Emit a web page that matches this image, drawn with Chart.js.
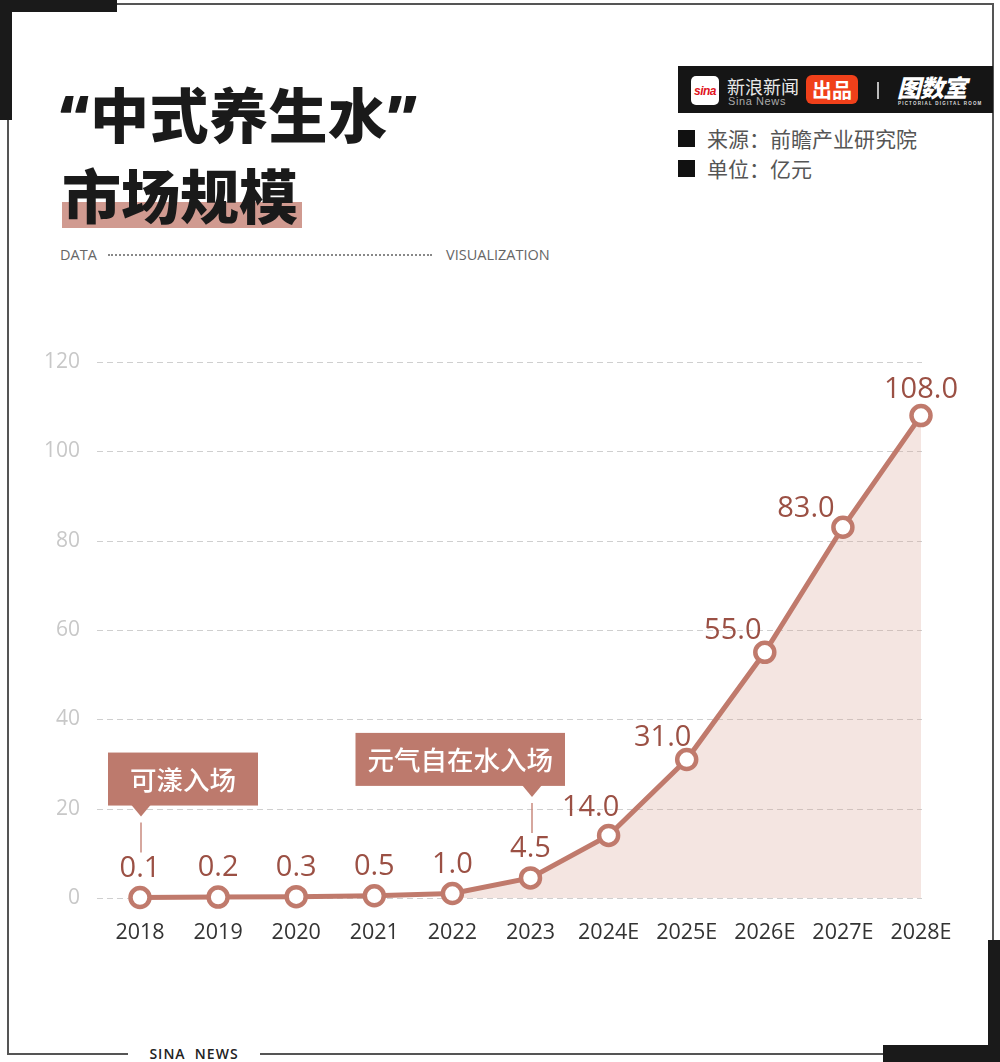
<!DOCTYPE html>
<html>
<head>
<meta charset="utf-8">
<script src="https://cdn.jsdelivr.net/npm/chart.js@4/dist/chart.umd.min.js"></script>
<style>
  html, body { margin: 0; padding: 0; background: #fff; }
  body { width: 1000px; height: 1062px; position: relative; overflow: hidden; font-family: 'Noto Sans CJK SC', 'Noto Sans', sans-serif; }
  .abs { position: absolute; }
  #chartWrap { position: absolute; left: 0; top: 330px; width: 1000px; height: 640px; }
  canvas { display: block; }
</style>
</head>
<body>
<!-- frame -->
<div class="abs" style="left:0;top:0;width:117px;height:12px;background:#1a1a1a"></div>
<div class="abs" style="left:0;top:0;width:12px;height:120px;background:#1a1a1a"></div>
<div class="abs" style="left:117px;top:3px;width:877px;height:2px;background:#555"></div>
<div class="abs" style="left:7px;top:120px;width:2px;height:935px;background:#555"></div>
<div class="abs" style="left:992px;top:3px;width:2px;height:937px;background:#555"></div>
<div class="abs" style="left:7px;top:1053px;width:121px;height:2px;background:#555"></div>
<div class="abs" style="left:260px;top:1053px;width:625px;height:2px;background:#555"></div>
<div class="abs" style="left:883px;top:1045px;width:117px;height:17px;background:#1a1a1a"></div>
<div class="abs" style="left:988px;top:940px;width:12px;height:122px;background:#1a1a1a"></div>
<div class="abs" style="left:128px;top:1044px;width:132px;text-align:center;font:600 14px 'Open Sans',sans-serif;letter-spacing:1px;color:#222;line-height:20px">SINA&nbsp; NEWS</div>

<!-- title -->
<div class="abs" style="left:62px;top:202px;width:240px;height:26px;background:#d09a90"></div>
<div class="abs" style="left:60px;top:75px;font-weight:900;font-size:59px;line-height:76px;color:#1a1a1a;white-space:nowrap;letter-spacing:0.5px"><span style="font-family:'Noto Sans',sans-serif;font-weight:900">“</span>中式养生水<span style="font-family:'Noto Sans',sans-serif;font-weight:900">”</span></div>
<div class="abs" style="left:62px;top:156px;font-weight:900;font-size:59px;line-height:76px;color:#1a1a1a;white-space:nowrap">市场规模</div>

<div class="abs" style="left:60px;top:245px;font:14.5px 'Open Sans',sans-serif;color:#666;line-height:20px">DATA</div>
<div class="abs" style="left:108px;top:254px;width:324px;border-top:2px dotted #888;height:0"></div>
<div class="abs" style="left:446px;top:245px;font:14.5px 'Open Sans',sans-serif;color:#666;line-height:20px">VISUALIZATION</div>

<!-- logo bar -->
<div class="abs" style="left:678px;top:66px;width:315px;height:47px;background:#151515"></div>
<div class="abs" style="left:691px;top:76px;width:28px;height:29px;background:#fff;border-radius:5px"></div>
<div class="abs" style="left:691px;top:83px;width:28px;text-align:center;font:italic 900 12px 'Liberation Sans',sans-serif;color:#e0141e;letter-spacing:-0.5px;line-height:16px">sina</div>
<div class="abs" style="left:727px;top:74px;font-size:18px;line-height:24px;color:#e8e8e8;white-space:nowrap">新浪新闻</div>
<div class="abs" style="left:728px;top:95px;font:11px 'Liberation Sans',sans-serif;line-height:12px;color:#aaa;white-space:nowrap;letter-spacing:0.6px">Sina News</div>
<div class="abs" style="left:806px;top:75px;width:52px;height:29px;background:#f0401a;border-radius:6px;color:#fff;font-weight:700;font-size:20px;line-height:29px;text-align:center">出品</div>
<div class="abs" style="left:877px;top:82px;width:2px;height:17px;background:#bbb"></div>
<div class="abs" style="left:897px;top:72px;font-weight:900;font-style:italic;font-size:24px;line-height:30px;color:#fff;white-space:nowrap;letter-spacing:-1px">图数室</div>
<div class="abs" style="left:898px;top:101px;font:bold 4.5px 'Liberation Sans',sans-serif;color:#ddd;letter-spacing:1.2px;white-space:nowrap;line-height:6px">PICTORIAL DIGITAL ROOM</div>

<!-- legend text -->
<div class="abs" style="left:678px;top:130px;width:17px;height:17px;background:#111"></div>
<div class="abs" style="left:707px;top:124px;font-size:21px;line-height:28px;color:#555;white-space:nowrap">来源：前瞻产业研究院</div>
<div class="abs" style="left:678px;top:160px;width:17px;height:17px;background:#111"></div>
<div class="abs" style="left:707px;top:154px;font-size:21px;line-height:28px;color:#555;white-space:nowrap">单位：亿元</div>

<div id="chartWrap"><canvas id="c" width="1000" height="640"></canvas></div>

<script>
const categories = ['2018', '2019', '2020', '2021', '2022', '2023', '2024E', '2025E', '2026E', '2027E', '2028E'];
const marketSize = [0.1, 0.2, 0.3, 0.5, 1.0, 4.5, 14.0, 31.0, 55.0, 83.0, 108.0];
const yTicks = [0, 20, 40, 60, 80, 100, 120];
const eventCategories = ['2018', '2023'];
const eventLabels = ['可漾入场', '元气自在水入场'];

const lineColor = '#c07a6c';
const labelColor = '#9b5044';
const areaColor = 'rgba(214,160,148,0.28)';
const fillFromIndex = 4; // shaded area begins at this point

// label placement tweaks (styling), index-aligned
const labelDX = [0, 0, 0, 0, 0, 0, -18, -24, -32, -37, 0];
const labelDY = [-29, -29, -29, -29, -29, -29, -28, -22, -22, -19, -26];
// annotation box styling
const eventBoxSide = ['right', 'left'];
const eventBoxPadX = [22, 12];

const gridPlugin = {
  id: 'dashGrid',
  beforeDatasetsDraw(chart) {
    const ctx = chart.ctx, y = chart.scales.y, x = chart.scales.x;
    const x0 = 97, x1 = x.getPixelForValue(categories.length - 1) + 1;
    ctx.save();
    ctx.strokeStyle = '#cfcfcf';
    ctx.lineWidth = 1;
    ctx.setLineDash([6, 4]);
    yTicks.forEach(v => {
      const py = Math.round(y.getPixelForValue(v)) + 0.5;
      ctx.beginPath(); ctx.moveTo(x0, py); ctx.lineTo(x1, py); ctx.stroke();
    });
    ctx.setLineDash([]);
    ctx.fillStyle = '#c8c8c8';
    ctx.font = "21px 'Open Sans', sans-serif";
    ctx.textAlign = 'right';
    ctx.textBaseline = 'middle';
    yTicks.forEach(v => {
      ctx.fillText(String(v), 80, y.getPixelForValue(v));
    });
    ctx.restore();
  }
};

const labelPlugin = {
  id: 'valueLabels',
  afterDatasetsDraw(chart) {
    const ctx = chart.ctx;
    const meta = chart.getDatasetMeta(0);
    ctx.save();
    ctx.fillStyle = labelColor;
    ctx.font = "29px 'Open Sans', sans-serif";
    ctx.textAlign = 'center';
    ctx.textBaseline = 'middle';
    meta.data.forEach((pt, i) => {
      ctx.fillText(marketSize[i].toFixed(1), pt.x + labelDX[i], pt.y + labelDY[i]);
    });
    // event annotations
    eventCategories.forEach((cat, k) => {
      const idx = categories.indexOf(cat);
      const pt = meta.data[idx];
      const px = Math.round(pt.x) + 1, py = pt.y;
      ctx.font = "500 26.5px 'Noto Sans CJK SC', sans-serif";
      const tw = ctx.measureText(eventLabels[k]).width;
      const bw = tw + 2 * eventBoxPadX[k], bh = 53;
      const bottom = py - 92, top = bottom - bh;
      const left = eventBoxSide[k] === 'right' ? px - 33 : px + 33 - bw;
      ctx.fillStyle = '#bd7a6d';
      ctx.fillRect(left, top, bw, bh);
      ctx.beginPath();
      ctx.moveTo(px - 10, bottom - 1);
      ctx.lineTo(px + 10, bottom - 1);
      ctx.lineTo(px, py - 81);
      ctx.closePath();
      ctx.fill();
      ctx.strokeStyle = '#c88a7e';
      ctx.lineWidth = 1.5;
      ctx.beginPath();
      ctx.moveTo(px, py - 75); ctx.lineTo(px, py - 45); ctx.stroke();
      ctx.fillStyle = '#fff';
      ctx.textAlign = 'center';
      ctx.textBaseline = 'middle';
      ctx.fillText(eventLabels[k], left + bw / 2, top + bh / 2 + 1);
    });
    ctx.restore();
  }
};

Chart.defaults.font.family = "'Open Sans', sans-serif";

new Chart(document.getElementById('c'), {
  type: 'line',
  data: {
    labels: categories,
    datasets: [{
      data: marketSize,
      borderColor: lineColor,
      borderWidth: 5,
      backgroundColor: areaColor,
      fill: 'origin',
      tension: 0,
      clip: false,
      segment: {
        backgroundColor: c => c.p0DataIndex < fillFromIndex ? 'rgba(0,0,0,0)' : areaColor
      },
      pointRadius: 9.5,
      pointHoverRadius: 9.5,
      pointBackgroundColor: '#fff',
      pointBorderColor: lineColor,
      pointBorderWidth: 4.5
    }]
  },
  options: {
    responsive: false,
    animation: false,
    events: [],
    layout: { autoPadding: false, padding: { top: 32, right: 79, left: 0, bottom: 0 } },
    plugins: { legend: { display: false }, tooltip: { enabled: false } },
    scales: {
      x: {
        offset: false,
        grid: { display: false, drawTicks: false },
        border: { display: false },
        ticks: { color: '#333', font: { size: 21.5 }, padding: 22, maxRotation: 0, autoSkip: false },
        afterFit(s) { s.height = 72; }
      },
      y: {
        min: 0, max: 120,
        afterBuildTicks(s) { s.ticks = yTicks.map(v => ({ value: v })); },
        grid: { display: false, drawTicks: false },
        border: { display: false },
        ticks: { display: false },
        afterFit(s) { s.width = 140; }
      }
    }
  },
  plugins: [gridPlugin, labelPlugin]
});
</script>
</body>
</html>
